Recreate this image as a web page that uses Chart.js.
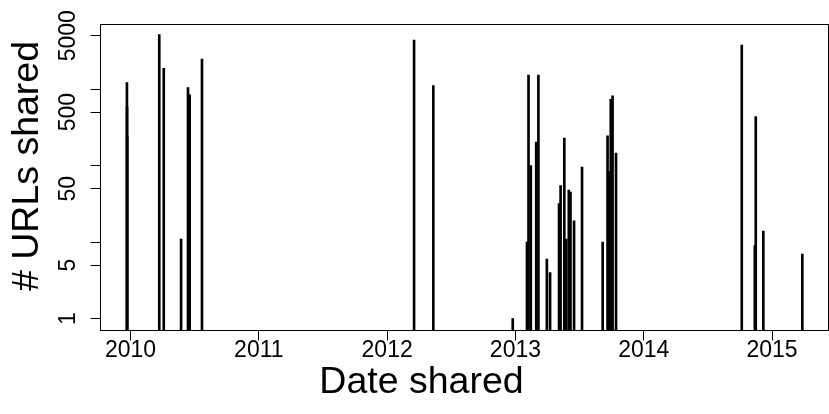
<!DOCTYPE html>
<html>
<head>
<meta charset="utf-8">
<script src="https://cdn.jsdelivr.net/npm/chart.js@4.4.0/dist/chart.umd.min.js"></script>
<style>
  html, body { margin: 0; padding: 0; background: #fff; }
</style>
</head>
<body>
<canvas id="chart" width="829" height="414"></canvas>
<script>
// Share bursts: decimal year of the share date, and how many URLs were shared
const shareDates = [
    2009.972, 2009.973, 2009.974, 2010.224, 2010.259, 2010.394, 2010.448, 2010.461, 2010.557,
    2012.210, 2012.360,
    2012.979, 2013.090, 2013.102, 2013.120, 2013.162, 2013.179, 2013.245, 2013.270, 2013.340,
    2013.352, 2013.381, 2013.396, 2013.416, 2013.429, 2013.457, 2013.519, 2013.680, 2013.718,
    2013.730, 2013.743, 2013.757, 2013.784,
    2014.764, 2014.866, 2014.873, 2014.932, 2015.236
];
const urlCounts = [
    1216, 591, 240, 5150, 1875, 11, 1046, 840, 2480,
    4390, 1111,
    1, 10, 1530, 100, 203, 1530, 6, 4, 32,
    55, 229, 11, 48, 45, 19, 96, 10, 245,
    84, 738, 815, 146,
    3776, 9, 438, 14, 7
];

// Axis ticks
const yearTicks = [2010, 2011, 2012, 2013, 2014, 2015];
const countTicks = [1, 5, 10, 50, 100, 500, 1000, 5000];
const labelledCounts = [1, 5, 50, 500, 5000]; // R drops the crowded 10 / 100 / 1000 labels

const X_TITLE = 'Date shared';
const Y_TITLE = '# URLs shared';

// Axis limits (R pads the data range a little)
const X_MIN = 2009.766;
const X_MAX = 2015.440;
const Y_MIN = 0.708;
const Y_MAX = 7000;

const FONT = "'Liberation Sans', Arial, Helvetica, sans-serif";
Chart.defaults.font.family = FONT;
Chart.defaults.color = '#000';

// Closed box round the plot region (bty = "o") plus the two axis titles
const plotFrame = {
    id: 'plotFrame',
    afterDraw(chart) {
        const { ctx, chartArea: a } = chart;
        ctx.save();
        ctx.strokeStyle = '#000';
        ctx.lineWidth = 1;
        ctx.strokeRect(a.left, a.top, a.right - a.left, a.bottom - a.top);

        ctx.fillStyle = '#000';
        ctx.font = `37.5px ${FONT}`;
        ctx.textAlign = 'center';
        ctx.textBaseline = 'alphabetic';
        ctx.fillText(X_TITLE, 421.5, 393);

        ctx.translate(37.5, 166);
        ctx.rotate(-Math.PI / 2);
        ctx.fillText(Y_TITLE, 0, 0);
        ctx.restore();
    }
};

const spikes = shareDates.map((d, i) => ({ x: d, y: [Y_MIN, urlCounts[i]] }));

new Chart(document.getElementById('chart'), {
    type: 'bar',
    data: {
        datasets: [{
            data: spikes,
            backgroundColor: '#000',
            borderWidth: 0,
            barThickness: 2
        }]
    },
    options: {
        responsive: false,
        animation: false,
        devicePixelRatio: 1,
        layout: { padding: { left: 0, right: 0.5, top: 24.5, bottom: 0 } },
        plugins: {
            legend: { display: false },
            tooltip: { enabled: false }
        },
        scales: {
            x: {
                type: 'linear',
                min: X_MIN,
                max: X_MAX,
                offset: false,
                afterBuildTicks: (scale) => { scale.ticks = yearTicks.map(v => ({ value: v })); },
                afterFit: (scale) => { scale.height = 414 - 330.5; },
                grid: { offset: false, drawOnChartArea: false, drawTicks: true, tickLength: 10, color: '#000' },
                border: { display: false },
                ticks: {
                    autoSkip: false,
                    maxRotation: 0,
                    padding: -1,
                    font: { size: 23, lineHeight: 1 },
                    callback: (v) => String(v)
                }
            },
            y: {
                type: 'logarithmic',
                min: Y_MIN,
                max: Y_MAX,
                afterBuildTicks: (scale) => { scale.ticks = countTicks.map(v => ({ value: v })); },
                afterFit: (scale) => { scale.width = 100.5; },
                grid: { drawOnChartArea: false, drawTicks: true, tickLength: 10, color: '#000' },
                border: { display: false },
                ticks: {
                    autoSkip: false,
                    minRotation: 90,
                    maxRotation: 90,
                    crossAlign: 'center',
                    padding: -3.5,
                    font: { size: 23, lineHeight: 1 },
                    callback: (v) => labelledCounts.includes(v) ? String(v) : ''
                }
            }
        }
    },
    plugins: [plotFrame]
});
</script>
</body>
</html>
